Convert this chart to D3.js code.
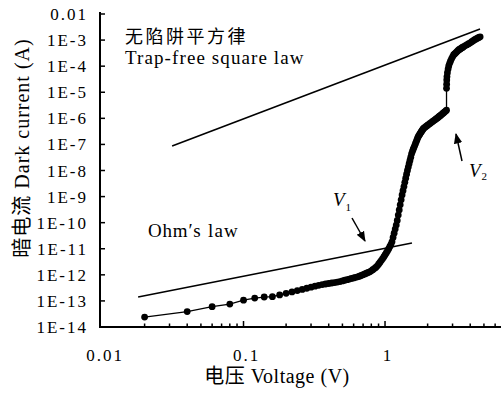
<!DOCTYPE html>
<html>
<head>
<meta charset="utf-8">
<script src="https://cdn.jsdelivr.net/npm/d3@7"></script>
<style>
  body { margin: 0; background: #fff; }
  text { font-family: "Liberation Serif", "Noto Sans CJK SC", serif; fill: #000; }
</style>
</head>
<body>
<div id="ivChart"></div>
<script>
// I-V data (V in volts, I in amps)
const voltage = [0.02,0.04,0.06,0.08,0.10,0.12,0.14,0.16,0.18,0.20,
    0.22,0.24,0.26,0.28,0.30,0.32,0.34,0.36,0.38,0.40,
    0.42,0.44,0.46,0.48,0.50,0.52,0.54,0.56,0.58,0.60,
    0.62,0.64,0.66,0.68,0.70,0.72,0.74,0.76,0.78,0.80,
    0.82,0.84,0.86,0.88,0.90,0.92,0.94,0.96,0.98,1.00,
    1.02,1.04,1.06,1.08,1.10,1.12,1.14,1.16,1.18,1.20,
    1.22,1.24,1.26,1.28,1.30,1.32,1.34,1.36,1.38,1.40,
    1.42,1.44,1.46,1.48,1.50,1.52,1.54,1.56,1.58,1.60,
    1.62,1.64,1.66,1.68,1.70,1.72,1.74,1.76,1.78,1.80,
    1.82,1.84,1.86,1.88,1.92,1.96,2.00,2.04,2.08,2.12,
    2.16,2.20,2.24,2.28,2.32,2.36,2.40,2.44,2.48,2.52,
    2.56,2.60,2.64,2.68,2.72,
    2.72,2.725,2.73,2.74,2.76,2.79,2.82,2.86,2.90,2.95,
    3.00,3.05,3.10,3.15,3.20,3.25,3.30,3.35,3.40,3.45,
    3.50,3.55,3.60,3.70,3.80,3.90,4.00,4.10,4.20,4.30,
    4.40,4.50,4.60,4.70];

const current = [2.4e-14,3.9e-14,6.0e-14,7.6e-14,1.07e-13,1.29e-13,1.41e-13,1.45e-13,1.70e-13,1.95e-13,
    2.21e-13,2.49e-13,2.77e-13,3.06e-13,3.36e-13,3.66e-13,3.97e-13,4.23e-13,4.45e-13,4.66e-13,
    4.86e-13,5.07e-13,5.29e-13,5.50e-13,5.85e-13,6.19e-13,6.53e-13,6.90e-13,7.26e-13,7.64e-13,
    8.02e-13,8.41e-13,8.81e-13,9.42e-13,1.01e-12,1.08e-12,1.15e-12,1.23e-12,1.30e-12,1.43e-12,
    1.58e-12,1.74e-12,1.92e-12,2.17e-12,2.55e-12,3.00e-12,3.51e-12,4.10e-12,4.85e-12,5.81e-12,
    6.92e-12,8.22e-12,9.88e-12,1.20e-11,1.45e-11,1.85e-11,2.70e-11,3.94e-11,5.66e-11,8.1e-11,
    1.22e-10,1.95e-10,3.09e-10,4.84e-10,7.53e-10,1.15e-9,1.68e-9,2.43e-9,3.53e-9,5.06e-9,
    7.24e-9,9.98e-9,1.35e-8,1.82e-8,2.44e-8,3.25e-8,4.34e-8,5.33e-8,6.38e-8,7.59e-8,
    9.02e-8,1.07e-7,1.26e-7,1.49e-7,1.76e-7,2.03e-7,2.24e-7,2.47e-7,2.72e-7,2.99e-7,
    3.28e-7,3.60e-7,3.94e-7,4.23e-7,4.60e-7,5.01e-7,5.43e-7,5.89e-7,6.38e-7,6.89e-7,
    7.43e-7,8.0e-7,8.6e-7,9.22e-7,9.89e-7,1.06e-6,1.15e-6,1.23e-6,1.32e-6,1.42e-6,
    1.53e-6,1.64e-6,1.77e-6,1.90e-6,2.04e-6,
    1.41e-5,2.04e-5,2.95e-5,3.98e-5,5.62e-5,7.76e-5,1.02e-4,1.29e-4,1.55e-4,1.91e-4,
    2.29e-4,2.69e-4,2.95e-4,3.18e-4,3.47e-4,3.78e-4,4.10e-4,4.36e-4,4.59e-4,4.83e-4,
    5.09e-4,5.36e-4,5.62e-4,6.14e-4,6.68e-4,7.26e-4,7.87e-4,8.63e-4,9.42e-4,1.03e-3,
    1.11e-3,1.18e-3,1.26e-3,1.33e-3];

// fitted guide lines: [V, I] end points
const ohmLine = [[0.018, 1.41e-13], [1.55, 1.66e-11]];
const trapFreeLine = [[0.0313, 8.7e-8], [4.69, 2.66e-3]];

const xTickValues = [0.01, 0.1, 1];
const xTickLabels = ["0.01", "0.1", "1"];
const yTickValues = [1e-2,1e-3,1e-4,1e-5,1e-6,1e-7,1e-8,1e-9,1e-10,1e-11,1e-12,1e-13,1e-14];
const yTickLabels = ["0.01","1E-3","1E-4","1E-5","1E-6","1E-7","1E-8","1E-9","1E-10","1E-11","1E-12","1E-13","1E-14"];

class IVChart {
    constructor() {
        this.width = 504;
        this.height = 396;
        this.left = 100;
        this.right = 501;
        this.top = 12;
        this.bottom = 327;

        this.svg = d3.select("#ivChart").append("svg")
            .attr("width", this.width)
            .attr("height", this.height);

        this.x = d3.scaleLog().domain([0.01, 6.6]).range([102, this.right]);
        this.y = d3.scaleLog().domain([1e-14, 1e-2]).range([this.bottom, 14]);
    }

    drawAxes() {
        let self = this;
        const g = this.svg.append("g");

        g.append("line")
            .attr("x1", self.left).attr("x2", self.right)
            .attr("y1", self.bottom).attr("y2", self.bottom)
            .attr("stroke", "#000").attr("stroke-width", 2);
        g.append("line")
            .attr("x1", self.left).attr("x2", self.left)
            .attr("y1", self.top).attr("y2", self.bottom + 1)
            .attr("stroke", "#000").attr("stroke-width", 2);

        // x ticks: decades plus 2..9 minors, pointing inward
        let minor = [];
        [0.01, 0.1, 1].forEach(d => {
            for (let k = 2; k <= 9; k++) {
                if (d * k <= 6.6) minor.push(d * k);
            }
        });
        g.selectAll(".xminor").data(minor).enter().append("line")
            .attr("x1", d => self.x(d)).attr("x2", d => self.x(d))
            .attr("y1", self.bottom).attr("y2", self.bottom - 3.5)
            .attr("stroke", "#000").attr("stroke-width", 1.5);
        g.selectAll(".xmajor").data(xTickValues.slice(1)).enter().append("line")
            .attr("x1", d => self.x(d)).attr("x2", d => self.x(d))
            .attr("y1", self.bottom).attr("y2", self.bottom - 6)
            .attr("stroke", "#000").attr("stroke-width", 1.5);
        g.selectAll(".xlabel").data(xTickValues).enter().append("text")
            .attr("x", (d, i) => self.x(d) + 3)
            .attr("y", 361)
            .attr("text-anchor", "middle")
            .style("font-size", "17px")
            .style("letter-spacing", "2px")
            .text((d, i) => xTickLabels[i]);

        g.selectAll(".ytick").data(yTickValues).enter().append("line")
            .attr("x1", self.left).attr("x2", self.left + 5)
            .attr("y1", d => self.y(d)).attr("y2", d => self.y(d))
            .attr("stroke", "#000").attr("stroke-width", 1.5);
        g.selectAll(".ylabel").data(yTickValues).enter().append("text")
            .attr("x", 88)
            .attr("y", d => self.y(d) + 6)
            .attr("text-anchor", "end")
            .style("font-size", "17px")
            .style("letter-spacing", "2px")
            .text((d, i) => yTickLabels[i]);

        this.svg.append("text")
            .attr("x", 277).attr("y", 383)
            .attr("text-anchor", "middle")
            .style("font-size", "20px")
            .style("letter-spacing", "0.5px")
            .text("电压 Voltage (V)");
        this.svg.append("text")
            .attr("transform", "translate(29,148) rotate(-90)")
            .attr("text-anchor", "middle")
            .style("font-size", "20px")
            .style("letter-spacing", "1px")
            .text("暗电流 Dark current (A)");
    }

    drawData() {
        let self = this;
        const points = voltage.map((v, i) => [v, current[i]]);
        const line = d3.line().x(d => self.x(d[0])).y(d => self.y(d[1]));

        [ohmLine, trapFreeLine].forEach(fit => {
            self.svg.append("path")
                .attr("d", line(fit))
                .attr("fill", "none")
                .attr("stroke", "#000")
                .attr("stroke-width", 1.6);
        });

        self.svg.append("path")
            .attr("d", line(points))
            .attr("fill", "none")
            .attr("stroke", "#000")
            .attr("stroke-width", 1.3);

        self.svg.append("g").selectAll("circle")
            .data(points)
            .enter()
            .append("circle")
                .attr("cx", d => self.x(d[0]))
                .attr("cy", d => self.y(d[1]))
                .attr("r", 3.4)
                .attr("fill", "#000");
    }

    drawNotes() {
        const svg = this.svg;
        svg.append("defs").append("marker")
            .attr("id", "arrow")
            .attr("viewBox", "0 0 10 10")
            .attr("refX", 9).attr("refY", 5)
            .attr("markerWidth", 7).attr("markerHeight", 7)
            .attr("orient", "auto")
            .append("path")
                .attr("d", "M0,1 L10,5 L0,9 Z")
                .attr("fill", "#000");

        svg.append("text").attr("x", 125).attr("y", 43)
            .style("font-size", "18px").style("letter-spacing", "2.5px")
            .text("无陷阱平方律");
        svg.append("text").attr("x", 125).attr("y", 64)
            .style("font-size", "19px").style("letter-spacing", "1.1px")
            .text("Trap-free square law");
        svg.append("text").attr("x", 148).attr("y", 237)
            .style("font-size", "19px").style("letter-spacing", "0.8px")
            .text("Ohm′s");
        svg.append("text").attr("x", 208).attr("y", 237)
            .style("font-size", "19px").style("letter-spacing", "1.2px")
            .text("law");

        // V1 / V2 labels with arrows
        let v1 = svg.append("text").attr("x", 333).attr("y", 206)
            .style("font-size", "19px").style("font-style", "italic");
        v1.append("tspan").text("V");
        v1.append("tspan").attr("dx", 1).attr("dy", 5).style("font-size", "11px").style("font-style", "normal").text("1");

        let v2 = svg.append("text").attr("x", 469).attr("y", 177)
            .style("font-size", "19px").style("font-style", "italic");
        v2.append("tspan").text("V");
        v2.append("tspan").attr("dx", 1).attr("dy", 3).style("font-size", "11px").style("font-style", "normal").text("2");

        svg.append("line")
            .attr("x1", 352).attr("y1", 218).attr("x2", 365).attr("y2", 241)
            .attr("stroke", "#000").attr("stroke-width", 1.5)
            .attr("marker-end", "url(#arrow)");
        svg.append("line")
            .attr("x1", 462).attr("y1", 161).attr("x2", 456).attr("y2", 134)
            .attr("stroke", "#000").attr("stroke-width", 1.5)
            .attr("marker-end", "url(#arrow)");
    }
}

const chart = new IVChart();
chart.drawAxes();
chart.drawData();
chart.drawNotes();
</script>
</body>
</html>
